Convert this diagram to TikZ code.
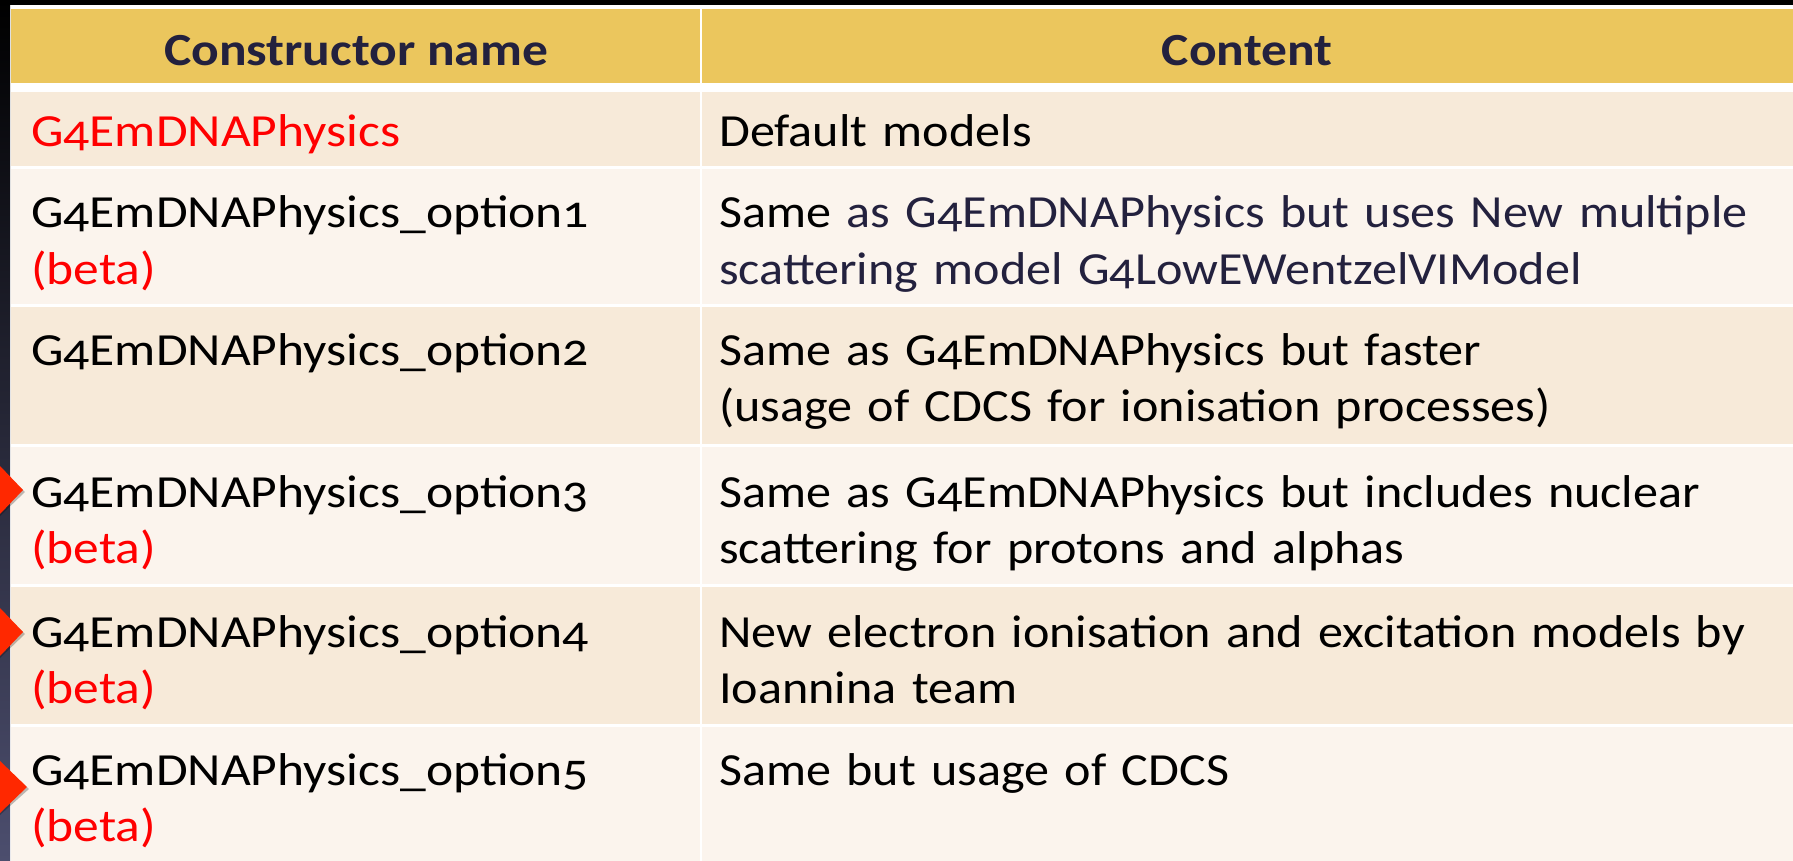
\documentclass[tikz,border=0pt]{standalone}
\usepackage{fontspec}
\setmainfont{Carlito}[Numbers=OldStyle, FakeStretch=1.09]
\newfontfamily\namefont{Carlito}[Numbers=OldStyle, FakeStretch=1.12]
\usetikzlibrary{shadings}
\definecolor{hdr}{RGB}{235,198,93}
\definecolor{rowA}{RGB}{247,234,217}
\definecolor{rowB}{RGB}{251,244,237}
\definecolor{navy}{RGB}{35,33,62}
\definecolor{bred}{RGB}{255,0,0}
\definecolor{tri}{RGB}{255,40,0}
\definecolor{sidebot}{RGB}{76,78,110}
\tikzset{
  celltext/.style={anchor=base west, inner sep=0pt, align=left, text width=1065pt,
    font=\fontsize{46}{56}\selectfont},
  nametext/.style={celltext, text width=660pt, font=\namefont\fontsize{46}{56}\selectfont},
  hdrtext/.style={anchor=base, inner sep=0pt, text=navy,
    font=\namefont\fontsize{46}{56}\selectfont\bfseries},
  marker/.style={fill=tri, draw=none},
}
\begin{document}
\begin{tikzpicture}[x=1pt,y=-1pt]
\useasboundingbox (0,0) rectangle (1793,861);
% background
\fill[white] (0,0) rectangle (1793,861);
\shade[top color=black, bottom color=sidebot] (0,0) rectangle (10,861);
\fill[black] (0,0) rectangle (1793,5);
% cells
\fill[hdr] (11,9) rectangle (700,83);
\fill[hdr] (702,9) rectangle (1793,83);
\foreach \t/\b/\c in {92/166/rowA,169/304/rowB,307/444/rowA,447/584/rowB,587/724/rowA,727/861/rowB}{
  \fill[\c] (11,\t) rectangle (700,\b);
  \fill[\c] (702,\t) rectangle (1793,\b);
}
% header
\node[hdrtext] (h1) at (356,66) {Constructor name};
\node[hdrtext] (h2) at (1247,66) {Content};
% column 1
\node[nametext, text=bred] (n1) at (31,147) {G4EmDNAPhysics};
\node[nametext] (n2) at (31,228) {G4EmDNAPhysics\_option1\\\textcolor{bred}{(beta)}};
\node[nametext] (n3) at (31,365) {G4EmDNAPhysics\_option2};
\node[nametext] (n4) at (31,507) {G4EmDNAPhysics\_option3\\\textcolor{bred}{(beta)}};
\node[nametext] (n5) at (31,647) {G4EmDNAPhysics\_option4\\\textcolor{bred}{(beta)}};
\node[nametext] (n6) at (31,785) {G4EmDNAPhysics\_option5\\\textcolor{bred}{(beta)}};
% column 2
\node[celltext] (c1) at (719,147) {Default models};
\node[celltext] (c2) at (719,228) {Same \textcolor{navy}{as G4EmDNAPhysics but uses New multiple}\\\textcolor{navy}{scattering model G4LowEWentzelVIModel}};
\node[celltext] (c3) at (719,365) {Same as G4EmDNAPhysics but faster\\(usage of CDCS for ionisation processes)};
\node[celltext] (c4) at (719,507) {Same as G4EmDNAPhysics but includes nuclear\\scattering for protons and alphas};
\node[celltext] (c5) at (719,647) {New electron ionisation and excitation models by\\Ioannina team};
\node[celltext] (c6) at (719,785) {Same but usage of CDCS};
% markers
\fill[black, opacity=0.25] (0,468) -- (25,492) -- (0,516) -- cycle;
\fill[marker] (0,466) -- (23,490) -- (0,514) -- cycle;
\fill[black, opacity=0.25] (0,610) -- (25,634) -- (0,658) -- cycle;
\fill[marker] (0,608) -- (23,632) -- (0,656) -- cycle;
\fill[black, opacity=0.25] (0,763) -- (29,789) -- (0,815) -- cycle;
\fill[marker] (0,761) -- (27,787) -- (0,813) -- cycle;
\end{tikzpicture}
\end{document}
